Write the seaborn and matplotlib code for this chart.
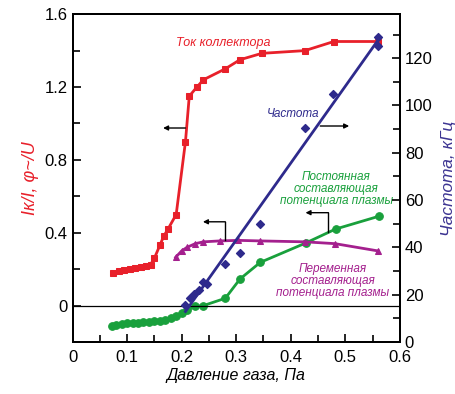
import numpy as np
import pandas as pd
import seaborn as sns
from matplotlib import pyplot as plt
from matplotlib.ticker import MultipleLocator

## Data
# Collector current, left axis
red_x = [0.075, 0.085, 0.095, 0.105, 0.115, 0.125, 0.135, 0.143, 0.15, 0.16, 0.167,
         0.175, 0.19, 0.207, 0.214, 0.228, 0.24, 0.28, 0.307, 0.347, 0.426, 0.479, 0.56]
red_y = [0.18, 0.19, 0.195, 0.20, 0.205, 0.21, 0.215, 0.225, 0.26, 0.33, 0.38,
         0.42, 0.50, 0.90, 1.15, 1.20, 1.24, 1.30, 1.35, 1.385, 1.40, 1.45, 1.45]
# DC plasma potential component, left axis
green_x = [0.073, 0.08, 0.09, 0.10, 0.11, 0.12, 0.13, 0.14, 0.15, 0.16, 0.17, 0.18,
           0.19, 0.20, 0.21, 0.225, 0.24, 0.28, 0.307, 0.344, 0.427, 0.482, 0.561]
green_y = [-0.113, -0.105, -0.10, -0.097, -0.095, -0.093, -0.09, -0.088, -0.085, -0.083,
           -0.08, -0.07, -0.055, -0.04, -0.025, -0.005, 0.0, 0.04, 0.146, 0.237, 0.343, 0.42, 0.49]
# AC plasma potential component, left axis
purple_x = [0.189, 0.20, 0.21, 0.225, 0.24, 0.27, 0.304, 0.344, 0.426, 0.481, 0.56]
purple_y = [0.265, 0.30, 0.32, 0.34, 0.35, 0.355, 0.358, 0.355, 0.35, 0.34, 0.30]
# Frequency, right axis (kHz)
blue_x = [0.207, 0.215, 0.222, 0.232, 0.24, 0.246, 0.28, 0.307, 0.344, 0.426, 0.478, 0.56, 0.56]
blue_y = [15.5, 18.5, 20.5, 22, 25.5, 24.5, 33, 37.7, 49.8, 90.3, 105, 125, 129]

RED = '#e8202a'
GREEN = '#19a03c'
BLUE = '#2e2a8c'
PURPLE = '#a4208e'

plt.rcParams['font.family'] = ['Liberation Sans', 'DejaVu Sans']

fig = plt.figure(figsize=(4.56, 3.94), dpi=100)
ax = fig.add_axes([0.159, 0.132, 0.718, 0.832])
ax2 = ax.twinx()

## Plot series
sns.lineplot(x=red_x, y=red_y, ax=ax, color=RED, lw=2, marker='s', ms=5, mec=RED)
sns.lineplot(x=green_x, y=green_y, ax=ax, color=GREEN, lw=2, marker='o', ms=5.5, mec=GREEN)
sns.lineplot(x=purple_x, y=purple_y, ax=ax, color=PURPLE, lw=2, marker='^', ms=5, mec=PURPLE)
sns.regplot(x=blue_x, y=blue_y, ax=ax2, ci=None, truncate=True, color=BLUE, marker='D',
            scatter_kws={'s': 16, 'alpha': 1}, line_kws={'lw': 2})
ax.axhline(0, color='black', lw=0.9)

## Axes
ax.set_xlim(0, 0.6)
ax.set_ylim(-0.2, 1.6)
ax2.set_ylim(0, 138.6)
ax.xaxis.set_minor_locator(MultipleLocator(0.05))
ax.yaxis.set_minor_locator(MultipleLocator(0.2))
ax2.yaxis.set_major_locator(MultipleLocator(20))
ax2.yaxis.set_minor_locator(MultipleLocator(10))
ax.set_xticks([0, 0.1, 0.2, 0.3, 0.4, 0.5, 0.6])
ax.set_xticklabels(['0', '0.1', '0.2', '0.3', '0.4', '0.5', '0.6'])
ax.set_yticks([0, 0.4, 0.8, 1.2, 1.6])
ax.set_yticklabels(['0', '0.4', '0.8', '1.2', '1.6'])
ax2.set_yticks([0, 20, 40, 60, 80, 100, 120])
for a in (ax, ax2):
    a.tick_params(which='both', direction='in', labelsize=12, width=1.2)
    a.tick_params(which='major', length=6)
    a.tick_params(which='minor', length=5)
    for s in a.spines.values():
        s.set_linewidth(1.4)
ax.tick_params(which='both', top=False, right=False)
ax.tick_params(axis='x', pad=6)

ax.set_xlabel('Давление газа, Па', fontsize=11.5, style='italic', labelpad=2)
ax.set_ylabel('Iк/I, φ~/U', fontsize=13, style='italic', color=RED, labelpad=4)
ax2.set_ylabel('Частота, кГц', fontsize=12.5, style='italic', color='#3d3592', labelpad=6)

## Annotations
ax.text(0.276, 1.44, 'Ток коллектора', color=RED, fontsize=9, style='italic', ha='center', va='center')
ax.text(0.404, 1.05, 'Частота', color=BLUE, fontsize=8.5, style='italic', ha='center', va='center')
ax.text(0.483, 0.64, 'Постоянная\nсоставляющая\nпотенциала плазмы', color=GREEN, fontsize=8.5,
        style='italic', ha='center', va='center', linespacing=1.05)
ax.text(0.477, 0.135, 'Переменная\nсоставляющая\nпотенциала плазмы', color=PURPLE, fontsize=8.5,
        style='italic', ha='center', va='center', linespacing=1.05)

arrow = dict(arrowstyle='-|>', color='black', lw=1, mutation_scale=7, shrinkA=0, shrinkB=0)
ax.annotate('', xy=(0.166, 0.975), xytext=(0.207, 0.975), arrowprops=arrow)
ax.annotate('', xy=(0.507, 0.986), xytext=(0.454, 0.986), arrowprops=arrow)
ax.plot([0.280, 0.280], [0.362, 0.46], color='black', lw=1)
ax.annotate('', xy=(0.239, 0.46), xytext=(0.280, 0.46), arrowprops=arrow)
ax.plot([0.469, 0.469], [0.405, 0.51], color='black', lw=1)
ax.annotate('', xy=(0.427, 0.51), xytext=(0.469, 0.51), arrowprops=arrow)

plt.savefig('out.png', dpi=100)
